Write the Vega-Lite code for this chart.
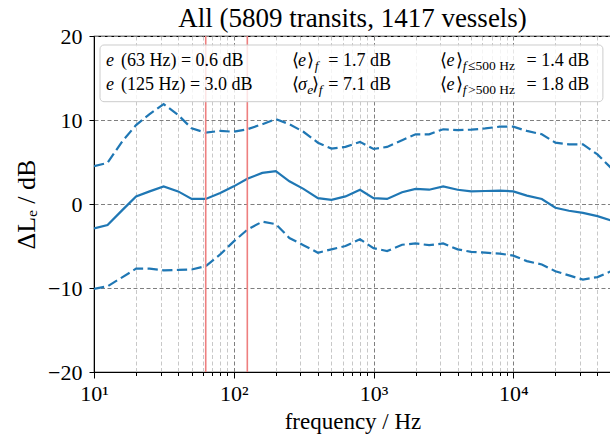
{
  "$schema": "https://vega.github.io/schema/vega-lite/v6.json",
  "width": 517,
  "height": 336,
  "autosize": {"type": "none"},
  "padding": {"left": 94, "top": 36, "right": 0, "bottom": 66},
  "background": "white",
  "title": {"text": "All (5809 transits, 1417 vessels)", "font": "Liberation Serif", "fontSize": 27, "fontWeight": "normal", "color": "black", "offset": -8, "anchor": "middle"},
  "config": {
    "view": {"stroke": "black", "strokeWidth": 1.2},
    "axis": {"labelFont": "Liberation Serif", "titleFont": "Liberation Serif", "labelColor": "black", "titleColor": "black", "domainColor": "black", "tickColor": "black", "titleFontWeight": "normal"}
  },
  "datasets": {
    "bands": [
      {"f": 10, "mean": -2.9, "upper": 4.5, "lower": -10.1},
      {"f": 12.5, "mean": -2.5, "upper": 4.9, "lower": -9.8},
      {"f": 16, "mean": -0.7, "upper": 7.5, "lower": -8.7},
      {"f": 20, "mean": 0.9, "upper": 9.4, "lower": -7.7},
      {"f": 25, "mean": 1.5, "upper": 10.7, "lower": -7.7},
      {"f": 31.5, "mean": 2.1, "upper": 11.9, "lower": -7.9},
      {"f": 40, "mean": 1.5, "upper": 10.6, "lower": -7.85},
      {"f": 50, "mean": 0.6, "upper": 9.0, "lower": -7.8},
      {"f": 63, "mean": 0.6, "upper": 8.5, "lower": -7.4},
      {"f": 80, "mean": 1.3, "upper": 8.7, "lower": -6.0},
      {"f": 100, "mean": 2.1, "upper": 8.6, "lower": -4.45},
      {"f": 125, "mean": 3.0, "upper": 8.9, "lower": -3.06},
      {"f": 160, "mean": 3.7, "upper": 9.5, "lower": -2.1},
      {"f": 200, "mean": 3.9, "upper": 10.1, "lower": -2.4},
      {"f": 250, "mean": 2.7, "upper": 9.5, "lower": -4.05},
      {"f": 315, "mean": 1.8, "upper": 8.6, "lower": -4.9},
      {"f": 400, "mean": 0.7, "upper": 7.3, "lower": -5.8},
      {"f": 500, "mean": 0.5, "upper": 6.6, "lower": -5.4},
      {"f": 630, "mean": 0.9, "upper": 6.8, "lower": -5.0},
      {"f": 800, "mean": 1.7, "upper": 7.4, "lower": -4.2},
      {"f": 1000, "mean": 0.7, "upper": 6.55, "lower": -5.25},
      {"f": 1250, "mean": 0.6, "upper": 6.8, "lower": -5.6},
      {"f": 1600, "mean": 1.4, "upper": 7.6, "lower": -4.85},
      {"f": 2000, "mean": 1.8, "upper": 8.3, "lower": -4.7},
      {"f": 2500, "mean": 1.7, "upper": 8.3, "lower": -4.9},
      {"f": 3150, "mean": 2.1, "upper": 8.9, "lower": -4.7},
      {"f": 4000, "mean": 1.7, "upper": 8.8, "lower": -5.4},
      {"f": 5000, "mean": 1.5, "upper": 8.85, "lower": -5.7},
      {"f": 6300, "mean": 1.55, "upper": 9.0, "lower": -5.8},
      {"f": 8000, "mean": 1.6, "upper": 9.2, "lower": -5.9},
      {"f": 10000, "mean": 1.5, "upper": 9.2, "lower": -6.15},
      {"f": 12500, "mean": 1.0, "upper": 8.7, "lower": -6.8},
      {"f": 16000, "mean": 0.6, "upper": 8.3, "lower": -7.2},
      {"f": 20000, "mean": -0.45, "upper": 7.3, "lower": -8.0},
      {"f": 25000, "mean": -0.8, "upper": 7.1, "lower": -8.5},
      {"f": 31500, "mean": -1.05, "upper": 7.1, "lower": -9.0},
      {"f": 40000, "mean": -1.45, "upper": 5.9, "lower": -8.7},
      {"f": 50000, "mean": -1.95, "upper": 4.3, "lower": -8.0}
    ],
    "markers": [{"f": 63}, {"f": 125}],
    "box": [{"f1": 11.04, "f2": 43750, "v1": 18.93, "v2": 12.18}],
    "labels": [
      {"f": 12.18, "v": 16.43, "t": "e", "k": "it"},
      {"f": 15.6, "v": 16.43, "t": "(63 Hz) = 0.6 dB", "k": "rm"},
      {"f": 12.18, "v": 13.57, "t": "e", "k": "it"},
      {"f": 15.6, "v": 13.57, "t": "(125 Hz) = 3.0 dB", "k": "rm"},
      {"f": 259.6, "v": 16.43, "t": "⟨", "k": "rm"},
      {"f": 288, "v": 16.43, "t": "e", "k": "it"},
      {"f": 333, "v": 16.43, "t": "⟩", "k": "rm"},
      {"f": 380, "v": 16.43, "t": "f", "k": "is"},
      {"f": 475, "v": 16.43, "t": "= 1.7 dB", "k": "rm"},
      {"f": 259.6, "v": 13.57, "t": "⟨", "k": "rm"},
      {"f": 288, "v": 13.57, "t": "σ", "k": "it"},
      {"f": 336, "v": 13.57, "t": "e", "k": "is"},
      {"f": 365, "v": 13.57, "t": "⟩", "k": "rm"},
      {"f": 405, "v": 13.57, "t": "f", "k": "is"},
      {"f": 475, "v": 13.57, "t": "= 7.1 dB", "k": "rm"},
      {"f": 2985, "v": 16.43, "t": "⟨", "k": "rm"},
      {"f": 3330, "v": 16.43, "t": "e", "k": "it"},
      {"f": 3880, "v": 16.43, "t": "⟩", "k": "rm"},
      {"f": 4350, "v": 16.43, "t": "f", "k": "is"},
      {"f": 4750, "v": 16.43, "t": "≤500 Hz", "k": "rs"},
      {"f": 12450, "v": 16.43, "t": "= 1.4 dB", "k": "rm"},
      {"f": 2985, "v": 13.57, "t": "⟨", "k": "rm"},
      {"f": 3330, "v": 13.57, "t": "e", "k": "it"},
      {"f": 3880, "v": 13.57, "t": "⟩", "k": "rm"},
      {"f": 4350, "v": 13.57, "t": "f", "k": "is"},
      {"f": 4750, "v": 13.57, "t": ">500 Hz", "k": "rs"},
      {"f": 12450, "v": 13.57, "t": "= 1.8 dB", "k": "rm"}
    ]
  },
  "layer": [
    {
      "data": {"name": "bands"},
      "mark": {"type": "line", "color": "#1f77b4", "strokeWidth": 2.2, "clip": true},
      "encoding": {
        "x": {"field": "f", "type": "quantitative",
          "scale": {"type": "log", "domain": [10, 50000], "nice": false, "zero": false},
          "axis": {
            "title": "frequency / Hz", "titleFontSize": 23, "titlePadding": 6,
            "values": [10,20,30,40,50,60,70,80,90,100,200,300,400,500,600,700,800,900,1000,2000,3000,4000,5000,6000,7000,8000,9000,10000,20000,30000,40000,50000],
            "labelExpr": "abs(log(datum.value)/LN10 - round(log(datum.value)/LN10)) < 0.01 ? '10' + ['⁰','¹','²','³','⁴','⁵'][round(log(datum.value)/LN10)] : ''",
            "labelFontSize": 22, "labelPadding": 5, "labelFlush": false, "labelOverlap": false,
            "grid": true,
            "gridColor": {"condition": {"test": "abs(log(datum.value)/LN10 - round(log(datum.value)/LN10)) < 0.01", "value": "#7f7f7f"}, "value": "#c8c8c8"},
            "gridDash": [4, 2.5],
            "gridWidth": 1,
            "tickSize": {"condition": {"test": "abs(log(datum.value)/LN10 - round(log(datum.value)/LN10)) < 0.01", "value": 6}, "value": 3.5},
            "tickWidth": 1
          }},
        "y": {"field": "mean", "type": "quantitative",
          "scale": {"domain": [-20, 20], "nice": false, "zero": false},
          "axis": {
            "title": "ΔLₑ / dB", "titleFontSize": 26, "titlePadding": 8,
            "values": [-20, -10, 0, 10, 20],
            "labelFontSize": 22, "labelPadding": 7, "tickSize": 5,
            "grid": true, "gridColor": "#7f7f7f", "gridDash": [4, 2.5], "gridWidth": 1
          }}
      }
    },
    {
      "data": {"name": "bands"},
      "mark": {"type": "line", "color": "#1f77b4", "strokeWidth": 2.2, "strokeDash": [10.3, 4.4], "clip": true},
      "encoding": {
        "x": {"field": "f", "type": "quantitative"},
        "y": {"field": "upper", "type": "quantitative"}
      }
    },
    {
      "data": {"name": "bands"},
      "mark": {"type": "line", "color": "#1f77b4", "strokeWidth": 2.2, "strokeDash": [10.3, 4.4], "clip": true},
      "encoding": {
        "x": {"field": "f", "type": "quantitative"},
        "y": {"field": "lower", "type": "quantitative"}
      }
    },
    {
      "data": {"name": "markers"},
      "mark": {"type": "rule", "color": "#ee7f7f", "strokeWidth": 1.6},
      "encoding": {
        "x": {"field": "f", "type": "quantitative"}
      }
    },
    {
      "data": {"name": "box"},
      "mark": {"type": "rect", "fill": "white", "fillOpacity": 0.8, "stroke": "#cccccc", "strokeWidth": 1, "cornerRadius": 4},
      "encoding": {
        "x": {"field": "f1", "type": "quantitative"},
        "x2": {"field": "f2"},
        "y": {"field": "v1", "type": "quantitative"},
        "y2": {"field": "v2"}
      }
    },
    {
      "data": {"name": "labels"},
      "transform": [{"filter": "datum.k === 'rm'"}],
      "mark": {"type": "text", "align": "left", "baseline": "alphabetic", "font": "Liberation Serif", "fontSize": 18, "color": "black"},
      "encoding": {
        "x": {"field": "f", "type": "quantitative"},
        "y": {"field": "v", "type": "quantitative"},
        "text": {"field": "t"}
      }
    },
    {
      "data": {"name": "labels"},
      "transform": [{"filter": "datum.k === 'it'"}],
      "mark": {"type": "text", "align": "left", "baseline": "alphabetic", "font": "Liberation Serif", "fontStyle": "italic", "fontSize": 18, "color": "black"},
      "encoding": {
        "x": {"field": "f", "type": "quantitative"},
        "y": {"field": "v", "type": "quantitative"},
        "text": {"field": "t"}
      }
    },
    {
      "data": {"name": "labels"},
      "transform": [{"filter": "datum.k === 'rs'"}],
      "mark": {"type": "text", "align": "left", "baseline": "alphabetic", "font": "Liberation Serif", "fontSize": 13.5, "dy": 4, "color": "black"},
      "encoding": {
        "x": {"field": "f", "type": "quantitative"},
        "y": {"field": "v", "type": "quantitative"},
        "text": {"field": "t"}
      }
    },
    {
      "data": {"name": "labels"},
      "transform": [{"filter": "datum.k === 'is'"}],
      "mark": {"type": "text", "align": "left", "baseline": "alphabetic", "font": "Liberation Serif", "fontStyle": "italic", "fontSize": 13.5, "dy": 4, "color": "black"},
      "encoding": {
        "x": {"field": "f", "type": "quantitative"},
        "y": {"field": "v", "type": "quantitative"},
        "text": {"field": "t"}
      }
    }
  ]
}
